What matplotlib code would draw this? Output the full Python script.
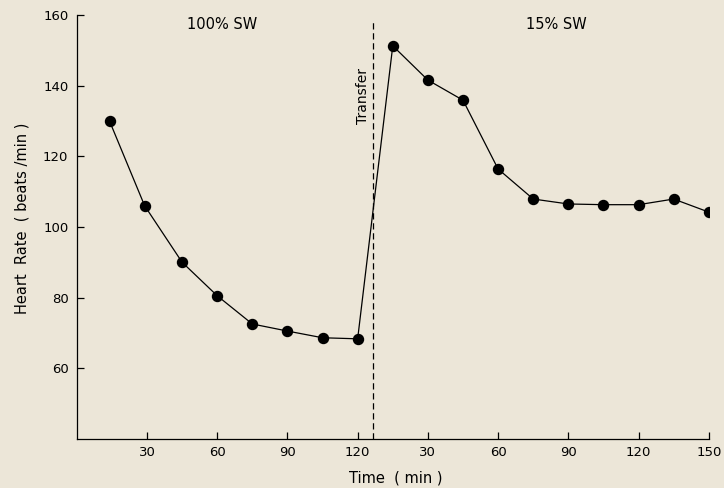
import matplotlib
matplotlib.use("Agg")
import matplotlib.pyplot as plt

# Data
time_sw100 = [14, 29, 45, 60, 75, 90, 105, 120]
hr_sw100 = [130, 106, 90, 80.5, 72.5, 70.5, 68.6, 68.3]
time_sw15 = [15, 30, 45, 60, 75, 90, 105, 120, 135, 150]
hr_sw15 = [151.3, 141.6, 135.9, 116.4, 107.9, 106.5, 106.3, 106.3, 107.9, 104.2]
phase1_end = 120
transfer_time = 6.6  # minutes after end of phase 1 (continuous axis offset)
xtick_labels = ["30", "60", "90", "120", "30", "60", "90", "120", "150"]
ytick_vals = [60, 80, 100, 120, 140, 160]

bg = "#ece6d8"
fig = plt.figure(figsize=(7.24, 4.88), dpi=100, facecolor=bg)
ax = fig.add_axes([0.106, 0.101, 0.873, 0.868], facecolor=bg)

x_all = time_sw100 + [phase1_end + t for t in time_sw15]
y_all = hr_sw100 + hr_sw15
ax.plot(x_all, y_all, color="black", lw=0.9, marker="o", ms=7.2,
        mfc="black", mec="black", zorder=3)

ax.axvline(phase1_end + transfer_time, color="black", lw=0.9,
           linestyle=(0, (5, 3)), ymax=0.985, zorder=2)

ax.set_xlim(0, phase1_end + 150)
ax.set_ylim(40, 160)
xt = [30, 60, 90, 120] + [phase1_end + t for t in [30, 60, 90, 120, 150]]
ax.set_xticks(xt)
ax.set_xticklabels(xtick_labels)
ax.set_yticks(ytick_vals)
ax.tick_params(direction="in", length=5, width=0.9, labelsize=9.5, pad=6,
               colors="black")
ax.tick_params(axis="x", pad=5)
for s in ["top", "right"]:
    ax.spines[s].set_visible(False)
for s in ["left", "bottom"]:
    ax.spines[s].set_linewidth(0.9)

ax.text(62, 157.4, "100% SW", ha="center", va="center", fontsize=10.5)
ax.text(205, 157.4, "15% SW", ha="center", va="center", fontsize=10.5)
ax.text(phase1_end + 2.2, 137, "Transfer", rotation=90, ha="center",
        va="center", fontsize=10)

ax.set_ylabel("Heart  Rate  ( beats /min )", fontsize=10.5)
ax.set_xlabel("Time  ( min )", fontsize=10.5)
ax.xaxis.set_label_coords(0.505, -0.076)
ax.yaxis.set_label_coords(-0.074, 0.52)

fig.savefig("out.png", dpi=100, facecolor=bg)
